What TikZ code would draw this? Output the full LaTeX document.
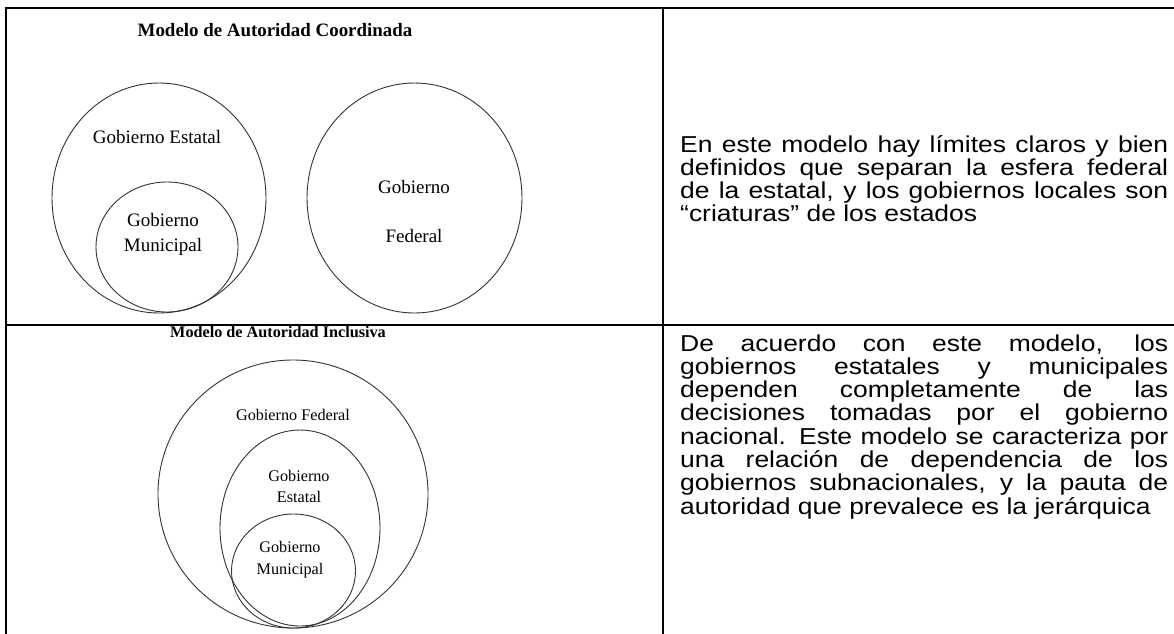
\documentclass[tikz,border=0pt]{standalone}
\usepackage{fontspec}
\newfontfamily\serifx{Liberation Serif}
\newfontfamily\sansx[FakeStretch=1.15]{Liberation Sans}
\newcommand\parjl[1]{\makebox[488pt][s]{#1}}
\newcommand\parll[1]{\makebox[488pt][l]{#1}}
\begin{document}
\begin{tikzpicture}[x=1pt,y=-1pt,
  rule/.style={line width=2pt,black},
  ring/.style={line width=0.9pt,black!80},
  lblA/.style={anchor=base,inner sep=0,font=\serifx\fontsize{19pt}{22pt}\selectfont},
  lblB/.style={anchor=base,inner sep=0,font=\serifx\fontsize{16.2pt}{19pt}\selectfont},
  ttlA/.style={anchor=base,inner sep=0,font=\serifx\bfseries\fontsize{18.9pt}{22pt}\selectfont},
  ttlB/.style={anchor=base,inner sep=0,font=\serifx\bfseries\fontsize{16.2pt}{19pt}\selectfont},
  para/.style={anchor=base west,inner sep=0,font=\sansx\fontsize{23pt}{23.3pt}\selectfont}]
\useasboundingbox (0,0) rectangle (1174,633);
\fill[white] (0,0) rectangle (1174,633);
% table rules
\draw[rule] (6,634) -- (6,8) -- (1175,8);
\draw[rule] (6,325) -- (1175,325);
\draw[rule] (663,8) -- (663,634);
% top diagram
\node[ttlA] (t1) at (275,36) {Modelo de Autoridad Coordinada};
\draw[ring] (159,198) ellipse [x radius=107pt, y radius=115pt];
\draw[ring] (167,247) ellipse [x radius=71pt, y radius=65pt];
\draw[ring] (414.5,198) ellipse [x radius=107.5pt, y radius=115pt];
\node[lblA] (ge1) at (157,143) {Gobierno Estatal};
\node[lblA] (gm1a) at (163,226) {Gobierno};
\node[lblA] (gm1b) at (163,251) {Municipal};
\node[lblA] (gf1a) at (414,193) {Gobierno};
\node[lblA] (gf1b) at (414,242) {Federal};
% bottom diagram
\draw[ring] (293,494) ellipse [x radius=135pt, y radius=134pt];
\draw[ring] (300,528) ellipse [x radius=80pt, y radius=98pt];
\draw[ring] (293.5,571) ellipse [x radius=62pt, y radius=57pt];
\node[ttlB] (t2) at (278,337) {Modelo de Autoridad Inclusiva};
\node[lblB] (gf2) at (293,420) {Gobierno Federal};
\node[lblB] (ge2a) at (299,481) {Gobierno};
\node[lblB] (ge2b) at (299,502) {Estatal};
\node[lblB] (gm2a) at (290,552) {Gobierno};
\node[lblB] (gm2b) at (290,574) {Municipal};
% texts
\node[para] (p1) at (680,152) {\parbox[t]{488pt}{%
\parjl{En este modelo hay límites claros y bien}\\
\parjl{definidos que separan la esfera federal}\\
\parjl{de la estatal, y los gobiernos locales son}\\
\parll{“criaturas” de los estados}}};
\node[para] (p2) at (680,351) {\parbox[t]{488pt}{%
\parjl{De acuerdo con este modelo, los}\\
\parjl{gobiernos estatales y municipales}\\
\parjl{dependen completamente de las}\\
\parjl{decisiones tomadas por el gobierno}\\
\parjl{nacional. Este modelo se caracteriza por}\\
\parjl{una relación de dependencia de los}\\
\parjl{gobiernos subnacionales, y la pauta de}\\
\parll{autoridad que prevalece es la jerárquica}}};
\end{tikzpicture}
\end{document}
